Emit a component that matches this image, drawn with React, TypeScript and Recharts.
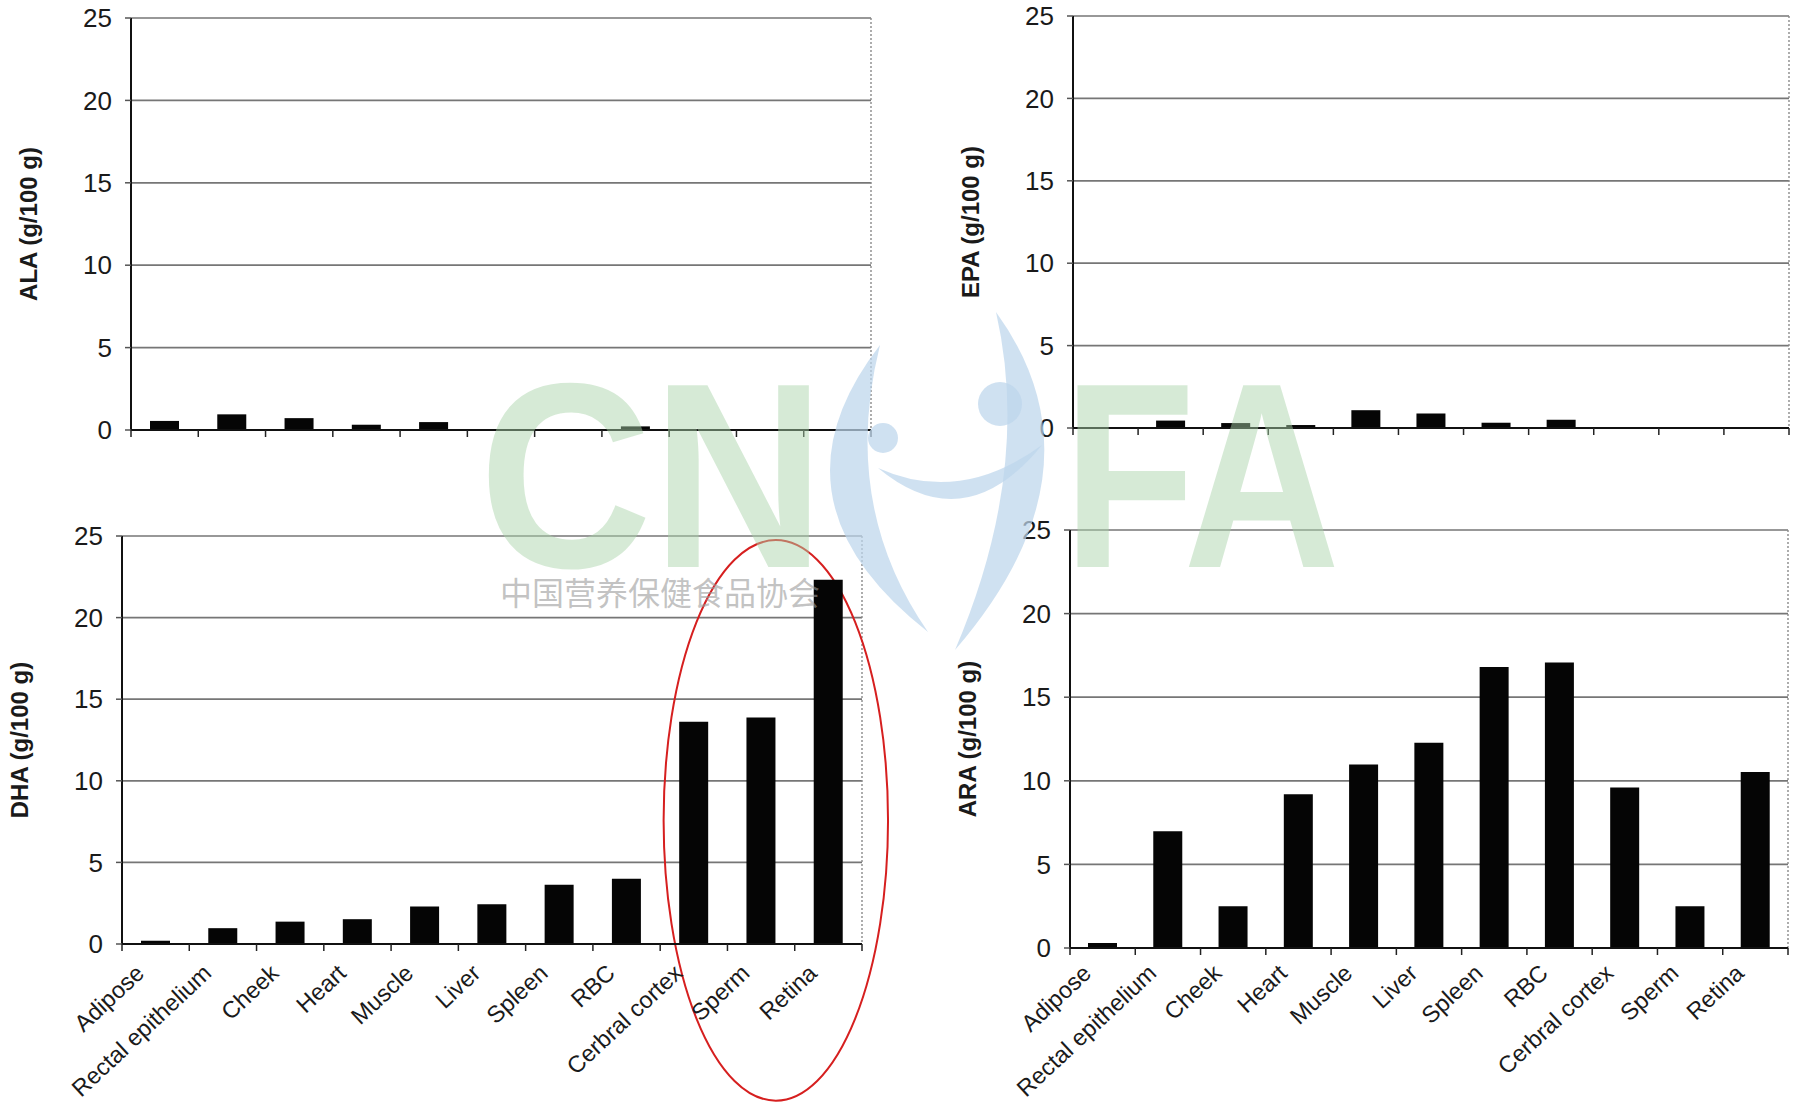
import React from 'react';
import { Bar, BarChart, CartesianGrid, ReferenceArea, XAxis, YAxis } from 'recharts';

const tissues = [
  'Adipose',
  'Rectal epithelium',
  'Cheek',
  'Heart',
  'Muscle',
  'Liver',
  'Spleen',
  'RBC',
  'Cerbral cortex',
  'Sperm',
  'Retina',
];
const alaValues = [0.55, 0.95, 0.72, 0.32, 0.48, 0, 0, 0.22, 0, 0, 0];
const epaValues = [0, 0.45, 0.3, 0.18, 1.08, 0.88, 0.32, 0.5, 0, 0, 0];
const dhaValues = [0.2, 0.97, 1.37, 1.52, 2.3, 2.43, 3.63, 4.0, 13.62, 13.88, 22.32];
const araValues = [0.3, 6.98, 2.49, 9.19, 10.98, 12.27, 16.8, 17.08, 9.6, 2.49, 10.53];
const yTicks = [0, 5, 10, 15, 20, 25];

const FONT = '"Liberation Sans", Arial, sans-serif';

function TissueTick(props: any) {
  const { x, y, payload, index, band, showLabel, labelDrop } = props;
  const left = x - band / 2;
  const lx = x - 10;
  const ly = y + labelDrop;
  return (
    <g>
      <line x1={left} y1={y} x2={left} y2={y + 7} stroke="#222" strokeWidth={1.5} />
      {index === tissues.length - 1 && (
        <line x1={x + band / 2} y1={y} x2={x + band / 2} y2={y + 7} stroke="#222" strokeWidth={1.5} />
      )}
      {showLabel && (
        <text
          x={lx}
          y={ly}
          transform={`rotate(-43, ${lx}, ${ly})`}
          textAnchor="end"
          fontSize={23.5}
          fontFamily={FONT}
          fill="#1a1a1a"
        >
          {payload.value}
        </text>
      )}
    </g>
  );
}

function Ellipse(props: any) {
  const { x, y, width, height } = props;
  return (
    <ellipse
      cx={x + width * 0.573}
      cy={y + height / 2}
      rx={width * 0.556}
      ry={height / 2}
      fill="none"
      stroke="#d61f1f"
      strokeWidth={2}
    />
  );
}

type PanelProps = {
  values: number[];
  title: string;
  box: { x: number; y: number; w: number; h: number };
  plot: { l: number; r: number; t: number; b: number };
  showLabels?: boolean;
  highlight?: boolean;
};

function Panel({ values, title, box, plot, showLabels, highlight }: PanelProps) {
  const data = tissues.map((t, i) => ({ tissue: t, v: values[i] }));
  const yw = plot.l - box.x;
  const mt = plot.t - box.y;
  const mr = box.x + box.w - plot.r;
  const xh = box.y + box.h - plot.b;
  const band = (plot.r - plot.l) / tissues.length;
  const tx = yw - 103;
  const ty = mt + (plot.b - plot.t) / 2;
  // keep the long rotated labels inside the page bottom
  const labelDrop = Math.min(34, xh - 132);
  return (
    <div style={{ position: 'absolute', left: box.x, top: box.y }}>
      <BarChart width={box.w} height={box.h} data={data} margin={{ top: mt, right: mr, left: 0, bottom: 0 }}>
        <CartesianGrid vertical={false} stroke="#767676" strokeWidth={1.7} />
        <CartesianGrid
          horizontal={false}
          stroke="#8a8a8a"
          strokeDasharray="2 2"
          strokeWidth={1.4}
          verticalCoordinatesGenerator={({ offset }: any) => [offset.left + offset.width]}
        />
        <XAxis
          dataKey="tissue"
          interval={0}
          height={xh}
          tickSize={0}
          tickMargin={0}
          tickLine={false}
          axisLine={{ stroke: '#111', strokeWidth: 2 }}
          tick={<TissueTick band={band} showLabel={showLabels} labelDrop={labelDrop} />}
        />
        <YAxis
          type="number"
          domain={[0, 25]}
          ticks={yTicks}
          width={yw}
          tickSize={6}
          tickMargin={13}
          tickLine={{ stroke: '#555', strokeWidth: 1.5 }}
          axisLine={{ stroke: '#111', strokeWidth: 2 }}
          tick={{ fontSize: 26, fontFamily: FONT, fill: '#1a1a1a' }}
          label={{
            content: () => (
              <text
                x={tx}
                y={ty}
                transform={`rotate(-90, ${tx}, ${ty})`}
                textAnchor="middle"
                dominantBaseline="central"
                fontSize={24}
                fontWeight="bold"
                fontFamily={FONT}
                fill="#1a1a1a"
              >
                {title}
              </text>
            ),
          }}
        />
        <Bar dataKey="v" fill="#050505" barSize={29} isAnimationActive={false} />
        {highlight && (
          <ReferenceArea
            x1="Cerbral cortex"
            x2="Retina"
            y1={-9.6}
            y2={24.75}
            ifOverflow="visible"
            shape={<Ellipse />}
          />
        )}
      </BarChart>
    </div>
  );
}

function Watermark() {
  return (
    <svg
      width={1799}
      height={1107}
      style={{ position: 'absolute', left: 0, top: 0, pointerEvents: 'none' }}
    >
      <g fill="#a9d4a9" fillOpacity={0.48} fontFamily={FONT} fontWeight="bold" fontSize={264}>
        <text x={479} y={567} textLength={346} lengthAdjust="spacingAndGlyphs">
          CN
        </text>
        <text x={1063} y={567} textLength={277} lengthAdjust="spacingAndGlyphs">
          FA
        </text>
      </g>
      <g fill="#bcd5eb" fillOpacity={0.72}>
        <path d="M 880 345 Q 760 500 928 632 Q 840 505 880 345 Z" />
        <path d="M 996 312 Q 1110 470 955 650 Q 1032 470 996 312 Z" />
        <path d="M 878 468 Q 960 505 1042 445 Q 965 540 878 468 Z" />
        <circle cx={1000} cy={404} r={22} />
        <circle cx={883} cy={438} r={15} />
      </g>
      <text
        x={660}
        y={605}
        textAnchor="middle"
        fontSize={32}
        fontFamily='"Noto Sans CJK SC", sans-serif'
        fill="#9a9a9a"
        fillOpacity={0.6}
      >
        中国营养保健食品协会
      </text>
    </svg>
  );
}

export default function App() {
  return (
    <div
      style={{
        position: 'absolute',
        left: 0,
        top: 0,
        width: 1799,
        height: 1107,
        background: '#fff',
        overflow: 'hidden',
      }}
    >
      <Panel
        values={alaValues}
        title="ALA (g/100 g)"
        box={{ x: 0, y: 0, w: 900, h: 470 }}
        plot={{ l: 131, r: 871, t: 18, b: 430 }}
      />
      <Panel
        values={epaValues}
        title="EPA (g/100 g)"
        box={{ x: 900, y: 0, w: 899, h: 470 }}
        plot={{ l: 1073, r: 1789, t: 16, b: 428 }}
      />
      <Panel
        values={dhaValues}
        title="DHA (g/100 g)"
        box={{ x: 0, y: 480, w: 900, h: 627 }}
        plot={{ l: 122, r: 862, t: 536, b: 944 }}
        showLabels
        highlight
      />
      <Panel
        values={araValues}
        title="ARA (g/100 g)"
        box={{ x: 900, y: 480, w: 899, h: 627 }}
        plot={{ l: 1070, r: 1788, t: 530, b: 948 }}
        showLabels
      />
      <Watermark />
    </div>
  );
}
